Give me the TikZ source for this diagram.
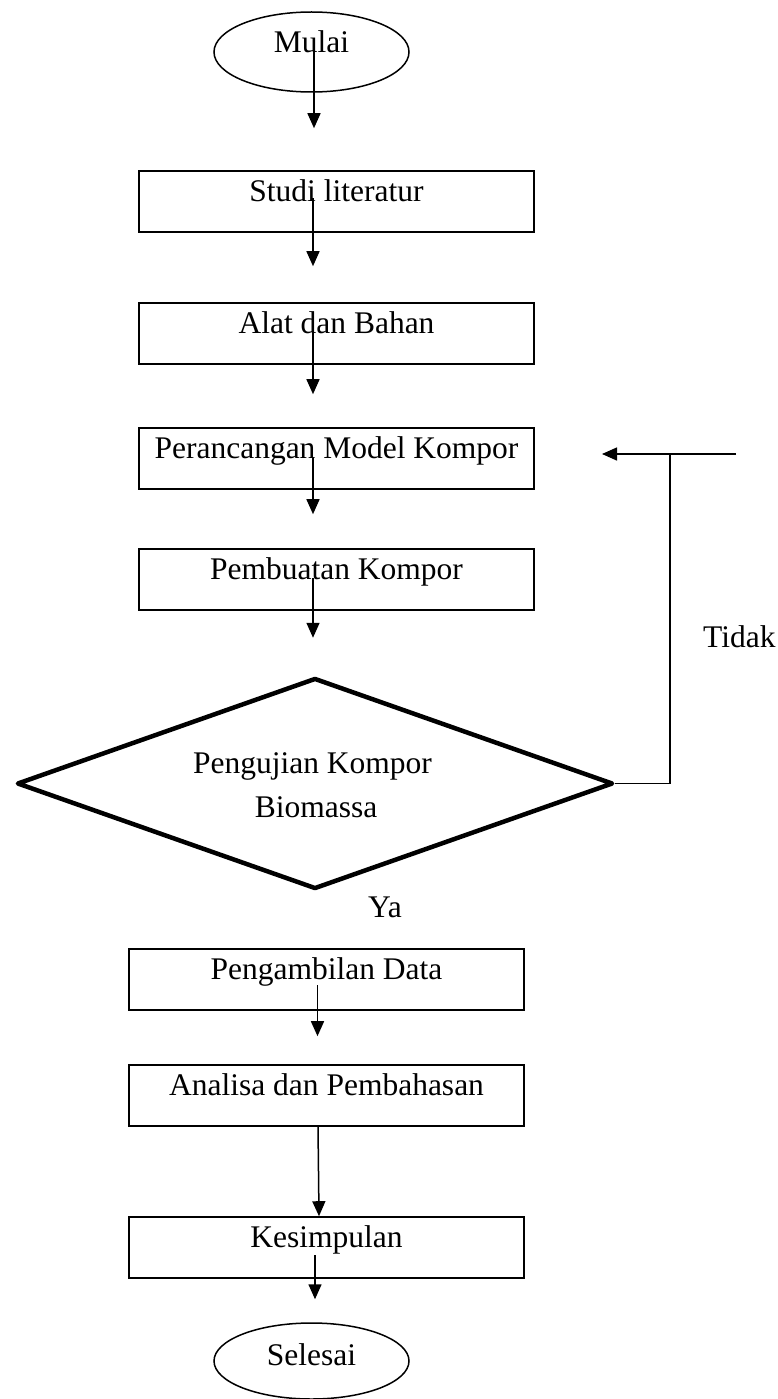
\documentclass[tikz,border=0pt]{standalone}
\usepackage{fontspec}
\setmainfont{Liberation Serif}
\usetikzlibrary{shapes.geometric,arrows.meta}
\begin{document}
\begin{tikzpicture}[x=1pt,y=-1pt,
  every node/.style={font=\fontsize{31.5pt}{44pt}\selectfont, inner sep=0pt},
  box/.style={draw, line width=1.6pt, rectangle, minimum width=395pt, minimum height=61pt,
              text height=30pt, text depth=31pt},
  term/.style={draw, ellipse, line width=1.5pt, minimum width=195pt},
  dec/.style={draw, diamond, line width=4.5pt, line join=round,
              minimum width=596pt, minimum height=211pt},
  arr/.style={line width=1.5pt, -{Triangle[width=13pt,length=15pt]}},
  ln/.style={line width=1.5pt}]
\useasboundingbox (0,0) rectangle (778,1399);

% terminals
\node[term, minimum height=80pt, text height=12pt, text depth=10pt] (m) at (311.5,52) {Mulai};
\node[term, minimum height=76pt, text height=16pt, text depth=8pt] (s) at (311.5,1361) {Selesai};

% process boxes
\node[box] (b1) at (336.5,201.5) {Studi literatur};
\node[box] (b2) at (336.5,333.5) {Alat dan Bahan};
\node[box] (b3) at (336.5,458.5) {Perancangan Model Kompor};
\node[box] (b4) at (336.5,579.5) {Pembuatan Kompor};
\node[box] (b5) at (326.5,979.5) {Pengambilan Data};
\node[box] (b6) at (326.5,1095.5) {Analisa dan Pembahasan};
\node[box] (b7) at (326.5,1247.5) {Kesimpulan};

% decision
\node[dec] (d) at (315,783.5) {};
\node[anchor=base] (d1) at (312.5,773) {Pengujian Kompor};
\node[anchor=base] (d2) at (316,817) {Biomassa};

% labels
\node[anchor=base west] (ya) at (368,917) {Ya};
\node[anchor=base west] (tidak) at (703,647) {Tidak};

% main arrows
\draw[arr] ([xshift=2.5pt,yshift=3pt]m.base) -- ([xshift=-22.5pt,yshift=42pt]b1.north);
\draw[arr] ([xshift=-23.5pt,yshift=3pt]b1.base) -- ([xshift=-23.5pt,yshift=36pt]b2.north);
\draw[arr] ([xshift=-23.5pt,yshift=1pt]b2.base) -- ([xshift=-23.5pt,yshift=33pt]b3.north);
\draw[arr] ([xshift=-23.5pt]b3.base) -- ([xshift=-23.5pt,yshift=34pt]b4.north);
\draw[arr] ([xshift=-23.5pt,yshift=1pt]b4.base) -- ([xshift=-2pt,yshift=38pt]d.north);
\draw[arr] ([xshift=-9pt,yshift=-6pt]b5.base) -- ([xshift=-9pt,yshift=28pt]b6.north);
\draw[arr] ([xshift=-8.5pt]b6.south) -- ([xshift=-7.5pt]b7.north);
\draw[arr] ([xshift=-11.5pt,yshift=-8pt]b7.base) -- ([xshift=3.5pt,yshift=23pt]s.north);

% feedback loop (Tidak)
\coordinate (fbtop) at (670,454);
\coordinate (fbr) at (736,454);
\coordinate (fbtip) at (602,454);
\draw[ln] (d.east) -- (d.east -| fbtop) -- (fbtop);
\draw[arr] (fbr) -- (fbtip);
\end{tikzpicture}
\end{document}
